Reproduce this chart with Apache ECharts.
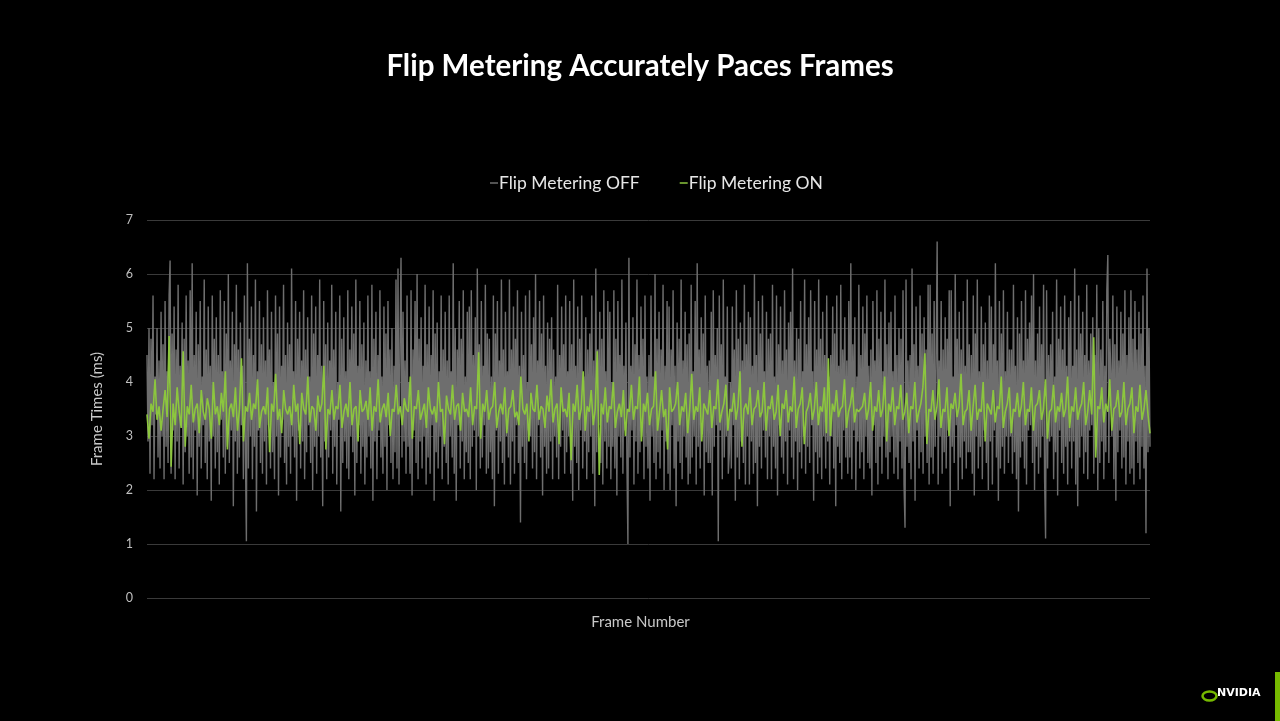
<!DOCTYPE html>
<html>
<head>
<meta charset="utf-8">
<script src="https://cdn.jsdelivr.net/npm/echarts@6/dist/echarts.min.js"></script>
<style>
html,body{margin:0;padding:0;background:#000;}
#c{width:1280px;height:721px;}
</style>
</head>
<body>
<div id="c"></div>
<script>
var titleText = 'Flip Metering Accurately Paces Frames';
var seriesNames = ['Flip Metering OFF', 'Flip Metering ON'];
var yTicks = [0, 1, 2, 3, 4, 5, 6, 7];

var offValues = [
4.5,2.9,5.0,2.3,4.8,3.2,5.6,2.2,4.1,3.4,5.0,2.6,4.4,2.4,5.3,3.0,4.7,2.2,5.5,2.8,
4.2,2.5,5.6,6.25,2.3,4.9,3.1,5.4,2.2,4.6,2.9,5.8,2.4,4.3,3.3,5.1,2.1,4.8,2.7,5.6,
3.0,4.4,2.3,5.7,2.6,6.2,2.2,4.5,3.1,5.3,1.9,4.7,2.8,5.5,2.4,4.1,3.2,5.9,2.5,4.6,
2.2,5.4,2.9,4.3,1.8,5.6,3.0,4.8,2.4,5.2,2.7,4.5,2.1,5.7,3.3,4.2,2.6,5.5,2.3,4.9,
2.8,6.0,2.5,4.4,3.1,5.3,1.7,4.7,2.9,5.8,2.3,4.6,2.6,5.1,3.2,4.3,2.2,5.6,2.7,1.05,
6.2,2.4,4.8,3.0,5.4,2.2,4.5,2.8,5.9,1.6,4.2,3.1,5.5,2.5,4.7,2.3,5.2,2.9,4.4,2.1,
5.7,3.2,4.6,2.4,5.3,2.7,4.0,2.2,5.6,3.0,4.9,1.9,5.4,2.6,4.3,3.3,5.8,2.5,4.5,2.1,
5.1,2.8,4.7,2.3,6.1,3.0,4.2,2.6,5.5,1.8,4.8,3.1,5.3,2.4,4.4,2.9,5.7,2.2,4.6,2.7,
5.2,3.2,4.1,2.5,5.6,2.0,4.9,2.8,5.4,2.3,4.5,3.0,5.9,2.6,4.3,1.7,5.5,2.9,4.7,2.2,
5.1,2.6,4.4,3.1,5.8,2.3,4.6,2.8,5.3,2.1,4.0,3.3,5.6,1.6,4.8,2.5,5.2,2.9,4.2,2.4,
5.7,2.2,4.6,3.0,5.4,2.7,4.9,1.9,5.9,2.5,4.3,3.2,5.5,2.3,4.7,2.8,5.1,2.1,4.4,2.6,
5.6,3.0,4.2,2.4,5.8,1.8,4.8,2.9,5.3,2.2,4.5,3.1,5.7,2.6,4.1,2.3,5.4,2.8,4.9,2.0,
5.5,3.2,4.6,2.5,5.0,2.2,4.3,2.7,5.9,2.4,6.1,2.1,4.7,6.3,2.6,5.3,2.9,4.4,2.3,5.6,
2.8,4.0,2.3,5.7,1.9,4.6,3.1,5.5,2.5,6.0,2.2,4.8,2.9,5.2,2.4,4.3,3.0,5.8,2.1,4.7,
2.6,5.4,2.3,4.5,3.2,5.7,1.8,4.9,2.7,5.1,2.4,4.2,3.0,5.6,2.2,4.6,2.8,5.3,2.5,4.4,
2.1,5.6,3.0,4.2,2.6,6.2,2.3,5.0,1.8,4.6,3.2,5.5,2.4,4.8,2.9,5.7,2.2,4.1,2.7,5.3,
2.5,5.4,2.2,5.7,2.8,4.5,3.1,5.2,2.0,6.1,3.0,4.7,2.4,5.5,2.6,4.3,3.2,5.8,2.3,4.9,
2.4,4.8,2.7,4.1,2.2,5.6,1.7,4.9,3.1,5.5,2.3,4.4,2.9,5.9,2.5,4.6,2.1,5.3,3.0,4.2,
2.6,5.9,2.1,4.6,2.9,5.4,2.3,4.8,3.2,5.7,2.5,4.3,1.4,5.3,2.8,4.5,2.5,5.6,2.2,4.0,
3.1,5.7,3.0,4.7,2.4,5.2,2.7,6.0,2.2,4.4,3.2,5.5,2.6,4.9,1.9,5.6,2.8,4.3,2.3,5.1,
2.4,4.8,2.9,5.2,2.2,4.6,3.0,4.1,2.6,5.8,2.2,4.5,2.8,5.4,3.1,4.7,2.3,5.6,2.7,4.2,
3.0,5.5,2.3,4.7,1.8,5.9,2.8,4.3,2.5,5.4,2.0,4.8,3.1,5.6,2.4,4.1,2.9,5.2,2.2,4.6,
2.7,4.9,3.0,5.6,2.3,4.4,1.7,6.1,2.7,4.6,3.2,5.3,2.5,4.8,2.1,5.7,2.9,4.2,2.4,5.5,
2.8,5.3,2.2,4.0,2.8,5.7,2.4,4.8,1.9,5.5,3.0,4.5,2.6,5.9,2.3,4.3,3.1,5.1,2.5,1.0,
6.3,2.6,4.3,3.1,5.2,2.1,4.7,2.9,5.9,2.3,4.5,2.7,5.4,3.0,4.8,2.2,5.6,2.8,4.1,2.4,
4.5,1.8,5.6,3.0,4.1,2.5,6.0,2.2,4.8,2.7,5.3,2.4,4.6,3.1,5.8,2.0,4.3,2.9,5.5,2.3,
5.4,2.0,4.6,3.2,5.7,2.4,4.3,1.7,5.1,2.9,4.8,2.5,5.9,2.2,4.4,3.0,5.3,2.6,4.7,2.1,
4.9,2.3,5.8,2.6,4.2,3.0,5.5,2.1,6.2,2.8,4.6,2.4,5.2,3.1,4.9,1.9,5.6,2.7,4.3,2.5,
4.4,2.5,5.3,1.9,5.7,2.8,4.5,3.2,5.0,1.05,5.6,3.1,4.7,2.2,5.9,2.6,4.1,3.0,5.4,2.3,
2.7,4.0,2.4,5.4,3.2,4.6,1.8,5.7,2.6,4.8,2.2,5.1,2.9,4.4,2.5,5.8,2.1,4.7,3.0,5.3,
2.1,5.2,2.9,4.3,2.3,6.0,2.5,4.5,1.7,5.5,2.8,4.9,2.4,5.6,3.1,4.2,2.6,5.3,2.2,4.8,
3.0,4.9,2.2,5.8,2.8,4.1,2.4,5.6,1.9,4.7,3.2,5.4,2.6,4.4,2.3,5.7,2.9,4.6,2.1,5.1,
3.1,5.3,2.6,6.1,2.2,4.4,2.9,5.0,2.0,4.8,2.7,5.5,2.4,4.2,3.0,5.9,2.3,4.7,2.8,5.2,
2.5,5.7,3.2,4.2,1.8,5.5,2.7,4.6,2.3,5.9,2.6,4.8,2.2,5.3,3.0,4.5,2.4,5.6,2.9,4.1,
2.1,4.5,3.0,5.4,2.4,4.9,1.7,5.6,2.8,4.3,2.5,5.8,2.2,4.6,3.1,5.2,2.6,4.4,2.3,5.5,
2.6,6.2,2.2,4.7,3.1,5.2,2.0,4.1,2.9,5.8,2.4,4.5,2.7,5.4,2.2,4.9,3.0,5.6,2.5,4.3,
2.4,4.6,1.9,5.5,3.2,4.4,2.5,5.7,2.1,4.8,2.8,5.3,2.3,4.2,3.0,5.9,2.6,4.7,2.2,5.1,
2.7,5.3,3.0,4.2,2.3,5.6,2.6,4.5,2.2,5.0,2.9,4.8,2.4,5.7,2.1,1.3,5.9,2.8,4.4,2.5,
4.5,2.2,6.1,2.9,4.7,1.8,5.4,3.1,4.3,2.4,5.6,2.7,4.9,2.3,5.2,3.0,4.6,2.5,5.8,2.1,
5.8,2.6,4.9,2.3,5.5,2.8,4.4,6.6,2.1,4.4,3.0,5.5,2.3,4.6,2.7,5.2,2.4,4.8,3.1,5.7,
1.7,5.7,2.8,4.1,2.5,6.0,3.2,4.8,2.0,5.3,2.6,4.6,2.2,5.5,2.9,4.3,2.4,5.9,2.7,4.7,
2.7,4.5,2.3,5.6,1.9,4.9,3.0,5.9,2.4,4.2,2.8,5.4,2.2,4.7,3.1,5.1,2.5,4.4,2.0,5.6,
2.9,5.4,2.1,4.7,3.1,6.2,2.6,4.4,1.8,5.5,2.4,4.9,2.8,5.7,2.3,4.2,3.0,5.3,2.5,4.6,
3.0,4.6,2.3,5.8,2.7,4.3,2.2,5.2,1.6,4.9,2.6,5.5,2.9,4.4,2.4,5.7,2.1,4.8,3.1,5.1,
3.2,5.6,2.5,6.0,2.0,4.4,2.8,4.9,2.3,5.4,2.6,4.7,3.0,5.8,2.2,1.1,5.7,2.4,4.5,2.9,
4.7,3.0,5.3,2.2,4.1,2.7,5.9,1.9,4.8,3.1,5.4,2.5,4.6,2.3,5.6,2.8,4.3,2.1,5.2,2.9,
5.5,2.4,4.3,2.9,6.1,2.1,4.6,1.7,5.6,2.6,4.9,3.0,5.3,2.3,4.5,2.7,5.8,2.2,4.4,3.1,
4.9,3.2,5.2,2.3,4.5,2.8,5.8,2.0,5.0,2.5,4.6,2.9,5.5,2.2,4.3,2.7,5.7,6.35,2.5,4.8,
4.2,3.0,5.6,2.2,4.7,1.8,5.4,2.7,4.4,3.1,5.3,2.4,4.9,2.6,5.7,2.1,4.5,2.9,5.2,2.3,
5.7,2.4,4.8,2.1,5.5,2.9,4.6,2.5,5.3,2.2,4.9,2.8,5.6,2.4,4.3,1.2,6.1,2.7,5.0,2.8
];

var onValues = [
3.4,2.95,3.6,3.45,4.05,3.3,3.55,3.1,3.5,3.85,
3.35,4.85,2.43,3.6,3.2,3.9,3.45,3.15,4.57,2.8,
3.55,3.4,3.95,3.25,3.5,3.6,3.05,3.85,3.45,3.3,
3.7,3.5,2.95,4.0,3.4,3.55,3.2,3.8,3.45,4.2,
2.75,3.5,3.6,3.35,3.9,3.1,3.5,4.44,2.9,3.55,
3.45,3.8,3.3,3.6,3.5,4.05,3.15,3.45,3.55,3.4,
3.9,2.7,3.6,3.45,4.15,3.3,3.5,3.05,3.85,3.5,
3.4,3.55,3.2,3.95,3.45,3.6,2.85,3.8,3.5,3.4,
4.1,3.25,3.55,3.5,3.1,3.75,3.45,3.6,4.3,2.75,
3.5,3.4,3.85,3.3,3.55,3.5,3.95,3.15,3.45,3.6,
3.35,4.0,3.2,3.5,3.55,2.9,3.85,3.45,3.5,3.65,
3.3,3.9,3.1,3.55,3.45,4.05,3.25,3.5,3.6,3.35,
3.8,3.0,3.5,3.45,3.95,3.4,3.55,3.2,3.7,3.5,
3.45,4.1,2.95,3.55,3.5,3.85,3.3,3.45,3.6,3.15,
3.9,3.5,3.4,3.55,3.25,4.0,3.45,3.5,2.85,3.75,
3.5,3.4,3.95,3.3,3.55,3.6,3.1,3.8,3.45,3.5,
3.35,3.9,3.2,3.55,3.5,4.55,2.95,3.6,3.45,3.85,
3.3,3.5,3.55,4.0,3.15,3.45,3.6,3.4,3.9,3.05,
3.5,3.55,3.85,3.35,3.45,3.2,4.1,3.5,3.4,3.6,
2.9,3.8,3.5,3.45,3.95,3.3,3.55,3.5,3.15,3.75,
3.45,4.05,3.25,3.5,3.6,2.85,3.9,3.45,3.5,3.35,
3.8,2.55,3.6,3.45,3.95,3.3,3.5,4.2,3.1,3.55,
3.45,3.85,3.2,3.5,4.57,2.28,3.6,3.4,3.9,3.25,
3.55,3.5,4.0,3.15,3.45,3.6,3.35,3.85,3.0,3.5,
3.45,3.95,3.3,3.55,3.5,4.1,2.9,3.6,3.45,3.8,
3.2,3.5,3.55,4.2,3.1,3.45,3.85,3.35,3.5,2.75,
3.9,3.45,3.5,3.6,4.0,3.2,3.55,3.45,3.8,3.05,
3.5,4.15,3.3,3.55,3.45,3.9,2.9,3.6,3.5,3.4,
3.85,3.15,3.55,3.5,4.05,3.25,3.45,3.6,3.95,3.1,
3.5,3.45,3.8,3.3,3.55,4.2,2.8,3.5,3.6,3.4,
3.9,3.2,3.5,3.55,3.85,3.35,3.45,4.0,3.1,3.55,
3.5,3.75,3.3,3.45,3.95,3.0,3.6,3.5,3.85,3.25,
3.55,3.45,4.1,3.15,3.5,3.6,3.9,2.85,3.45,3.55,
3.8,3.3,3.5,4.0,3.2,3.55,3.45,3.9,3.05,4.44,
3.0,3.6,3.45,3.85,3.35,3.5,3.55,4.05,3.15,3.45,
3.6,3.9,3.25,3.5,3.45,3.5,3.55,3.8,3.3,3.5,
4.0,3.1,3.55,3.45,3.85,3.35,3.5,4.1,2.9,3.6,
3.45,3.9,3.2,3.55,3.5,3.95,3.3,3.45,3.8,3.05,
3.55,3.5,4.0,3.25,3.45,3.6,3.9,4.53,2.85,3.5,
3.45,3.85,3.3,3.55,4.05,3.15,3.5,3.45,3.9,3.0,
3.6,3.5,3.8,3.35,3.55,4.15,3.2,3.45,3.5,3.85,
3.1,3.55,3.95,3.3,3.5,3.45,4.0,2.9,3.6,3.5,
3.4,3.85,3.25,3.55,3.5,4.1,3.15,3.45,3.6,3.9,
3.05,3.5,3.45,3.8,3.35,3.55,4.0,3.2,3.5,3.45,
3.9,3.1,3.55,3.6,3.85,3.3,3.5,4.05,2.95,3.45,
3.5,3.95,3.25,3.55,3.45,3.8,3.35,3.5,4.1,3.15,
3.55,3.45,3.9,3.3,3.5,3.6,4.0,3.2,3.45,3.85,
3.4,4.83,2.6,3.55,3.5,3.9,3.25,3.6,3.45,4.05,
3.1,3.5,3.55,3.85,3.35,3.45,4.0,3.2,3.5,3.6,
3.9,3.05,3.55,3.45,3.95,3.3,3.5,3.85,3.4,3.05
];

var offFrames = offValues.map(function (v, i) { return String(i + 1); });
var onFrames = onValues.map(function (v, i) { return String(i + 1); });

function hiddenCategoryAxis(data, extra) {
  var ax = {
    type: 'category',
    data: data,
    boundaryGap: false,
    axisLine: {show: false},
    axisTick: {show: false},
    axisLabel: {show: false},
    splitLine: {show: false}
  };
  for (var k in extra) ax[k] = extra[k];
  return ax;
}

var chart = echarts.init(document.getElementById('c'), null, {renderer: 'canvas'});
chart.setOption({
  backgroundColor: '#000000',
  animation: false,
  title: {
    text: titleText,
    left: 'center',
    top: 46,
    textStyle: {color: '#ffffff', fontFamily: 'Lato', fontWeight: 'bold', fontSize: 29.5}
  },
  legend: {
    data: seriesNames,
    left: 485,
    top: 169,
    icon: 'rect',
    itemWidth: 8,
    itemHeight: 1.5,
    itemGap: 40,
    textStyle: {color: '#e6e6e6', fontFamily: 'Lato', fontSize: 17.5, padding: [0, 0, 0, -4]}
  },
  grid: {left: 147, right: 130, top: 220, bottom: 123},
  xAxis: [
    hiddenCategoryAxis(offFrames, {
      name: 'Frame Number',
      nameLocation: 'middle',
      nameGap: 17,
      nameTextStyle: {color: '#c8c8c8', fontFamily: 'Lato', fontSize: 15, padding: [0, 16, 0, 0]}
    }),
    hiddenCategoryAxis(onFrames, {position: 'bottom'})
  ],
  yAxis: {
    type: 'value',
    min: yTicks[0],
    max: yTicks[yTicks.length - 1],
    interval: 1,
    name: 'Frame Times (ms)',
    nameLocation: 'middle',
    nameGap: 42,
    nameTextStyle: {color: '#c8c8c8', fontFamily: 'Lato', fontSize: 15},
    axisLine: {show: false},
    axisTick: {show: false},
    axisLabel: {color: '#bfbfbf', fontFamily: 'Lato', fontSize: 12.5, margin: 14},
    splitLine: {lineStyle: {color: '#3a3a3a', width: 1}}
  },
  series: [
    {
      name: seriesNames[0],
      type: 'line',
      xAxisIndex: 0,
      data: offValues,
      symbol: 'none',
      sampling: 'none',
      itemStyle: {color: '#6e6e6e'},
      lineStyle: {color: '#6e6e6e', width: 1.4}
    },
    {
      name: seriesNames[1],
      type: 'line',
      xAxisIndex: 1,
      data: onValues,
      symbol: 'none',
      itemStyle: {color: '#8cc63e'},
      lineStyle: {color: '#8cc63e', width: 1.6}
    }
  ],
  graphic: [
    {type: 'rect', left: 1275, top: 672, shape: {width: 5, height: 49}, style: {fill: '#76b900'}},
    {type: 'ellipse', left: 1200, top: 689, shape: {cx: 0, cy: 0, rx: 7, ry: 4.5}, style: {fill: 'none', stroke: '#76b900', lineWidth: 2.5}},
    {type: 'text', left: 1217, top: 688, style: {text: 'NVIDIA', fill: '#ffffff', font: 'bold 11px "DejaVu Sans"'}}
  ]
});
</script>
</body>
</html>
